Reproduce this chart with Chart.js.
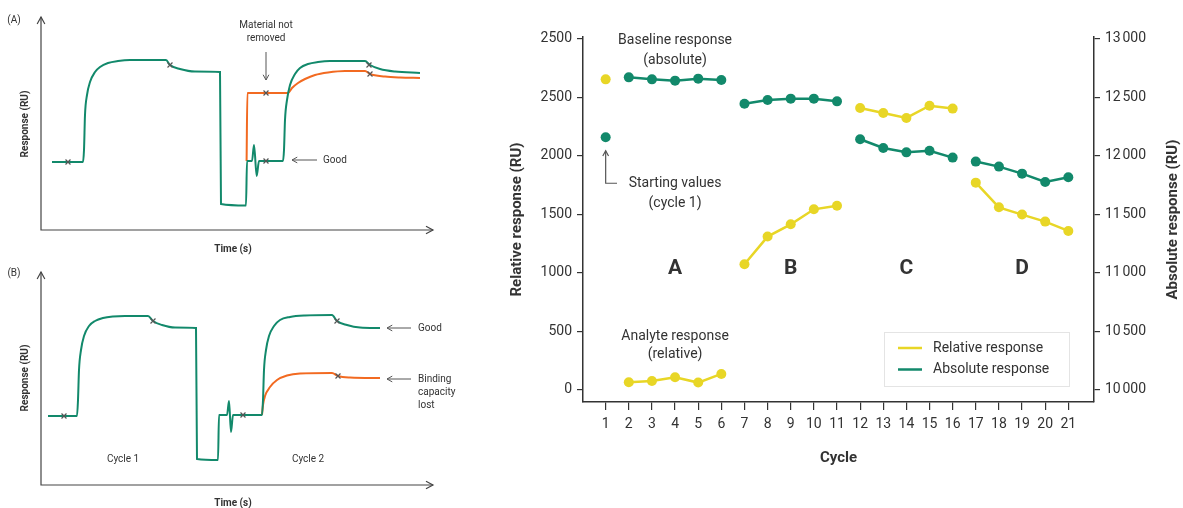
<!DOCTYPE html>
<html>
<head>
<meta charset="utf-8">
<script src="https://cdn.jsdelivr.net/npm/chart.js@4.4.1/dist/chart.umd.min.js"></script>
<style>
  html, body { margin: 0; padding: 0; background: #fff; }
  body { width: 1183px; height: 508px; position: relative; overflow: hidden; }
  .box { position: absolute; }
  #boxA { left: 0; top: 0; width: 470px; height: 255px; }
  #boxB { left: 0; top: 255px; width: 470px; height: 253px; }
  #boxC { left: 480px; top: 0; width: 703px; height: 508px; }
</style>
</head>
<body>
<div class="box" id="boxA"><canvas id="panelA"></canvas></div>
<div class="box" id="boxB"><canvas id="panelB"></canvas></div>
<div class="box" id="boxC"><canvas id="cycleChart"></canvas></div>
<script>
// ---- right chart data ----
const cycles = [1, 2, 3, 4, 5, 6, 7, 8, 9, 10, 11, 12, 13, 14, 15, 16, 17, 18, 19, 20, 21];
const blockOf = ['start', 'A', 'A', 'A', 'A', 'A', 'B', 'B', 'B', 'B', 'B',
  'C', 'C', 'C', 'C', 'C', 'D', 'D', 'D', 'D', 'D'];
const relativeResponse = [2655, 66, 77, 108, 63, 137, 1074, 1311, 1416, 1544, 1575,
  2410, 2368, 2325, 2430, 2405, 1772, 1561, 1499, 1439, 1359];
const absoluteResponse = [12160, 12672, 12655, 12644, 12661, 12650, 12447, 12479, 12490, 12490, 12467,
  12143, 12068, 12031, 12045, 11986, 11952, 11909, 11849, 11778, 11818];
const leftTicks = [0, 500, 1000, 1500, 2000, 2500, 3000];
const leftTickLabels = ['0', '500', '1000', '1500', '2000', '2500', '2500'];
const rightTicks = [10000, 10500, 11000, 11500, 12000, 12500, 13000];
const rightTickLabels = ['10\u202F000', '10\u202F500', '11\u202F000', '11\u202F500', '12\u202F000', '12\u202F500', '13\u202F000'];

// ---- sensorgram sketches, [time, response] in arbitrary units ----
const greenA = [[11, 68], [42, 68], [43, 80], [44, 115], [46, 135], [49, 148], [54, 158], [59, 163], [67, 167],
  [77, 169], [89, 170], [125, 170], [129, 165], [139, 161], [154, 158.5], [179, 158], [180, 26], [205, 24.5],
  [206, 69], [211, 69], [213, 85], [215.7, 54], [218, 69], [242, 69], [243, 80], [244, 110], [246, 130],
  [249, 145], [254, 156], [259, 162], [267, 166], [277, 168], [289, 169], [324, 169], [329, 165], [339, 161],
  [354, 158.5], [379, 157]];
const orangeA = [[205.6, 69], [206.4, 137], [247, 137], [251, 142], [257, 147], [264, 151], [274, 155],
  [287, 157.5], [304, 159], [324, 159], [329, 156], [344, 153.5], [359, 152.5], [379, 152]];
const marksA = [[27, 68], [129, 165], [225, 69], [225, 137], [328, 165], [329, 156]];

const greenB = [[7, 69], [36, 69], [37, 85], [38, 115], [40, 135], [43, 149], [48, 159], [54, 164], [62, 167],
  [72, 168.5], [84, 169], [107, 169], [112, 164], [121, 160], [134, 157.5], [155, 157], [156, 26], [177, 25],
  [178, 70], [186, 70], [188, 84], [190, 53], [192, 70], [221, 70], [222, 85], [223, 115], [225, 135],
  [228, 149], [233, 159], [239, 165], [249, 168], [264, 169.5], [291, 170], [296, 164], [306, 160],
  [319, 157.5], [339, 157]];
const orangeB = [[221, 70], [222, 80], [224, 89], [229, 98], [236, 105], [246, 109.5], [259, 111.5],
  [291, 112], [297, 109], [309, 107.5], [339, 107]];
const marksB = [[23, 69], [112, 164], [202, 70], [296, 164], [297, 109]];

const GREEN = '#12896b';
const ORANGE = '#f26a21';
const YELLOW = '#e8d626';
const INK = '#333';
const FONT = 'Roboto, "Open Sans", sans-serif';

function arrowHead(ctx, x, y, angle, size) {
  ctx.beginPath();
  ctx.moveTo(x - size * Math.cos(angle - 0.5), y - size * Math.sin(angle - 0.5));
  ctx.lineTo(x, y);
  ctx.lineTo(x - size * Math.cos(angle + 0.5), y - size * Math.sin(angle + 0.5));
  ctx.stroke();
}

function drawLabel(ctx, text, px, py, font, align, rotate) {
  ctx.save();
  ctx.font = font;
  ctx.fillStyle = INK;
  ctx.textAlign = align || 'center';
  ctx.textBaseline = 'middle';
  ctx.translate(px, py);
  if (rotate) ctx.rotate(rotate);
  ctx.fillText(text, 0, 0);
  ctx.restore();
}

// axes with arrowheads + text for the two sketches
const sketchPlugin = {
  id: 'sketch',
  afterDraw(chart, args, opts) {
    const { ctx, chartArea: a, scales: { x, y } } = chart;
    ctx.save();
    ctx.strokeStyle = '#444';
    ctx.lineWidth = 1.2;
    ctx.beginPath();
    ctx.moveTo(a.left, a.top);
    ctx.lineTo(a.left, a.bottom);
    ctx.lineTo(a.right, a.bottom);
    ctx.stroke();
    arrowHead(ctx, a.left, a.top, -Math.PI / 2, 8);
    arrowHead(ctx, a.right, a.bottom, 0, 8);
    ctx.lineWidth = 1;
    ctx.strokeStyle = '#555';
    opts.arrows.forEach((ar) => {
      const x0 = x.getPixelForValue(ar.from[0]), y0 = y.getPixelForValue(ar.from[1]);
      const x1 = x.getPixelForValue(ar.to[0]), y1 = y.getPixelForValue(ar.to[1]);
      ctx.beginPath();
      ctx.moveTo(x0, y0);
      ctx.lineTo(x1, y1);
      ctx.stroke();
      arrowHead(ctx, x1, y1, Math.atan2(y1 - y0, x1 - x0), 6);
    });
    ctx.restore();
    opts.labels.forEach((l) => {
      drawLabel(ctx, l.text, x.getPixelForValue(l.t), y.getPixelForValue(l.r),
        (l.bold ? 'bold 10px ' : '10px ') + FONT, l.align, l.rotate);
    });
  },
};

function sketchChart(id, green, orange, marks, notes, bottomPad) {
  const pts = (arr) => arr.map(([x, y]) => ({ x, y }));
  return new Chart(id, {
    type: 'line',
    data: {
      datasets: [
        {
          data: pts(marks), showLine: false, pointStyle: 'crossRot', pointRadius: 3.5,
          borderColor: '#555', borderWidth: 1.2,
        },
        {
          data: pts(green), borderColor: GREEN, borderWidth: 2, pointRadius: 0,
          cubicInterpolationMode: 'monotone',
        },
        {
          data: pts(orange), borderColor: ORANGE, borderWidth: 2, pointRadius: 0,
          cubicInterpolationMode: 'monotone',
        },
      ],
    },
    options: {
      responsive: true,
      maintainAspectRatio: false,
      animation: false,
      layout: { padding: { left: 41, top: 17, right: 37, bottom: bottomPad } },
      plugins: { legend: { display: false }, tooltip: { enabled: false }, sketch: notes },
      scales: {
        x: { type: 'linear', display: false, min: 0, max: 392 },
        y: { type: 'linear', display: false, min: 0, max: 213 },
      },
    },
    plugins: [sketchPlugin],
  });
}

sketchChart('panelA', greenA, orangeA, marksA, {
  labels: [
    { text: '(A)', t: -27, r: 210 },
    { text: 'Material not', t: 225, r: 205 },
    { text: 'removed', t: 225, r: 192 },
    { text: 'Good', t: 282, r: 70, align: 'left' },
    { text: 'Response (RU)', t: -16, r: 106, bold: true, rotate: -Math.PI / 2 },
    { text: 'Time (s)', t: 192, r: -19, bold: true },
  ],
  arrows: [
    { from: [225, 178], to: [225, 150] },
    { from: [276, 70], to: [251, 70] },
  ],
}, 25);

sketchChart('panelB', greenB, orangeB, marksB, {
  labels: [
    { text: '(B)', t: -27, r: 212 },
    { text: 'Good', t: 377, r: 157, align: 'left' },
    { text: 'Binding', t: 377, r: 106, align: 'left' },
    { text: 'capacity', t: 377, r: 93, align: 'left' },
    { text: 'lost', t: 377, r: 80, align: 'left' },
    { text: 'Cycle 1', t: 82, r: 26 },
    { text: 'Cycle 2', t: 267, r: 26 },
    { text: 'Response (RU)', t: -16, r: 107, bold: true, rotate: -Math.PI / 2 },
    { text: 'Time (s)', t: 192, r: -18, bold: true },
  ],
  arrows: [
    { from: [370, 157], to: [346, 157] },
    { from: [370, 106], to: [346, 106] },
  ],
}, 23);

// ---- right chart ----
const notesPlugin = {
  id: 'notes',
  afterDraw(chart, args, opts) {
    const { ctx, chartArea: a, scales: { x, y } } = chart;
    opts.labels.forEach((l) => {
      drawLabel(ctx, l.text, x.getPixelForValue(l.cycle), y.getPixelForValue(l.value),
        l.big ? 'bold 21px ' + FONT : '14px ' + FONT, 'center');
    });
    // right axis title, read bottom to top like the left one
    drawLabel(ctx, opts.rightTitle, a.right + 79, (a.top + a.bottom) / 2,
      'bold 15px ' + FONT, 'center', -Math.PI / 2);
    // L-shaped arrow to the starting values
    const ar = opts.startArrow;
    const xa = x.getPixelForValue(ar.cycle), xe = x.getPixelForValue(ar.endCycle);
    const yb = y.getPixelForValue(ar.from), yt = y.getPixelForValue(ar.to);
    ctx.save();
    ctx.strokeStyle = '#555';
    ctx.lineWidth = 1.2;
    ctx.beginPath();
    ctx.moveTo(xe, yb);
    ctx.lineTo(xa, yb);
    ctx.lineTo(xa, yt);
    ctx.stroke();
    arrowHead(ctx, xa, yt, -Math.PI / 2, 6);
    // legend box inside the plot
    const w = 185, h = 54;
    const bx = a.right - 25 - w, by = a.bottom - 16 - h;
    ctx.strokeStyle = '#e4e4e4';
    ctx.lineWidth = 1;
    ctx.fillStyle = '#fff';
    ctx.fillRect(bx, by, w, h);
    ctx.strokeRect(bx + 0.5, by + 0.5, w, h);
    chart.data.datasets.forEach((ds, i) => {
      const ly = by + 16 + i * 21.5;
      ctx.strokeStyle = ds.borderColor;
      ctx.lineWidth = 2.5;
      ctx.beginPath();
      ctx.moveTo(bx + 14, ly);
      ctx.lineTo(bx + 38, ly);
      ctx.stroke();
      drawLabel(ctx, ds.label, bx + 49, ly, '14px ' + FONT, 'left');
    });
    ctx.restore();
  },
};

function sameBlock(ctx) {
  return blockOf[ctx.p0DataIndex] === blockOf[ctx.p1DataIndex];
}

function responseSet(label, values, color, axis) {
  return {
    label,
    data: cycles.map((c, i) => ({ x: c, y: values[i] })),
    yAxisID: axis,
    borderColor: color,
    backgroundColor: color,
    borderWidth: 2.5,
    pointRadius: 5,
    pointHoverRadius: 5,
    pointBorderWidth: 0,
    segment: { borderColor: (ctx) => (sameBlock(ctx) ? color : 'transparent') },
  };
}

const tickFont = { family: FONT, size: 14 };
const titleFont = { family: FONT, size: 15, weight: 'bold' };

new Chart('cycleChart', {
  type: 'line',
  data: {
    datasets: [
      responseSet('Relative response', relativeResponse, YELLOW, 'y'),
      responseSet('Absolute response', absoluteResponse, GREEN, 'y2'),
    ],
  },
  options: {
    responsive: true,
    maintainAspectRatio: false,
    animation: false,
    layout: { padding: { left: 28, top: 37, right: 1, bottom: 36 } },
    plugins: {
      legend: { display: false },
      tooltip: { enabled: false },
      notes: {
        labels: [
          { text: 'Baseline response', cycle: 4, value: 2985 },
          { text: '(absolute)', cycle: 4, value: 2820 },
          { text: 'Starting values', cycle: 4, value: 1761 },
          { text: '(cycle 1)', cycle: 4, value: 1596 },
          { text: 'Analyte response', cycle: 4, value: 453 },
          { text: '(relative)', cycle: 4, value: 299 },
          { text: 'A', cycle: 4, value: 1040, big: true },
          { text: 'B', cycle: 9, value: 1040, big: true },
          { text: 'C', cycle: 14, value: 1040, big: true },
          { text: 'D', cycle: 19, value: 1040, big: true },
        ],
        startArrow: { cycle: 1, endCycle: 1.49, from: 1767, to: 2045 },
        rightTitle: 'Absolute response (RU)',
      },
    },
    scales: {
      x: {
        type: 'linear',
        min: 0.02,
        max: 22.11,
        afterBuildTicks: (s) => { s.ticks = cycles.map((v) => ({ value: v })); },
        afterFit: (s) => { s.height = 70; },
        ticks: { color: INK, font: tickFont, padding: 6, autoSkip: false, maxRotation: 0, callback: (v) => String(v) },
        grid: { drawOnChartArea: false, drawTicks: true, tickLength: 8, color: INK, lineWidth: 1.2 },
        border: { color: INK, width: 1.5 },
        title: { display: true, text: 'Cycle', color: INK, font: titleFont, padding: { top: 0, bottom: 5 } },
      },
      y: {
        position: 'left',
        min: -103,
        max: 3017,
        afterBuildTicks: (s) => { s.ticks = leftTicks.map((v) => ({ value: v })); },
        afterFit: (s) => { s.width = 75; },
        ticks: { color: INK, font: tickFont, padding: 5, callback: (v) => leftTickLabels[leftTicks.indexOf(v)] },
        grid: { drawOnChartArea: false, drawTicks: true, tickLength: 6, color: INK, lineWidth: 1.2 },
        border: { color: INK, width: 1.5 },
        title: { display: true, text: 'Relative response (RU)', color: INK, font: titleFont, padding: { top: 0, bottom: 0 } },
      },
      y2: {
        position: 'right',
        min: 9897,
        max: 13017,
        afterBuildTicks: (s) => { s.ticks = rightTicks.map((v) => ({ value: v })); },
        afterFit: (s) => { s.width = 88; },
        ticks: { color: INK, font: tickFont, padding: 5, callback: (v) => rightTickLabels[rightTicks.indexOf(v)] },
        grid: { drawOnChartArea: false, drawTicks: true, tickLength: 6, color: INK, lineWidth: 1.2 },
        border: { color: INK, width: 1.5 },
        title: { display: false },
      },
    },
  },
  plugins: [notesPlugin],
});
</script>
</body>
</html>
